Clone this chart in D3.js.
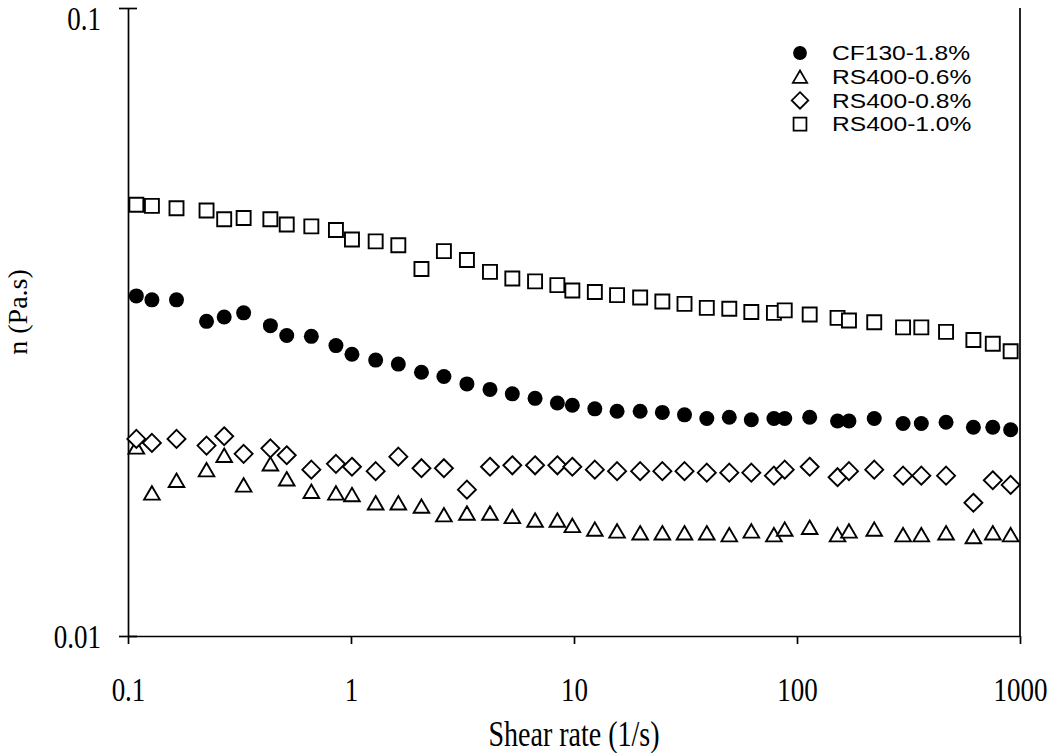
<!DOCTYPE html>
<html>
<head>
<meta charset="utf-8">
<script src="https://cdn.jsdelivr.net/npm/d3@7"></script>
<style>
  body { margin: 0; background: #fff; }
</style>
</head>
<body>
<script>
"use strict";

// shear rate (1/s), shared by all four samples
const shearRate = [0.109, 0.128, 0.165, 0.225, 0.27, 0.33, 0.435, 0.515, 0.664, 0.856,
  1.01, 1.29, 1.63, 2.07, 2.61, 3.31, 4.2, 5.29, 6.69, 8.42,
  9.83, 12.4, 15.6, 19.8, 24.9, 31.3, 39.4, 49.7, 62.4, 78.8,
  88.1, 114, 152, 171, 222, 299, 361, 466, 618, 755, 908];

// viscosity (Pa.s)
const cf130 = [0.0348, 0.0343, 0.0343, 0.0317, 0.0322, 0.0327, 0.0312, 0.0301, 0.0300, 0.0290,
  0.0281, 0.0275, 0.0271, 0.0263, 0.0259, 0.0252, 0.0247, 0.0243, 0.0239, 0.0235,
  0.0233, 0.0230, 0.0228, 0.0228, 0.0227, 0.0225, 0.0222, 0.0223, 0.0221, 0.0222,
  0.0222, 0.0223, 0.0220, 0.0220, 0.0222, 0.0218, 0.0218, 0.0219, 0.0215, 0.0215, 0.0213];

const rs06 = [0.0200, 0.0169, 0.0177, 0.0184, 0.0194, 0.0174, 0.0188, 0.0178, 0.0170, 0.0169,
  0.0168, 0.0163, 0.0163, 0.0161, 0.0156, 0.0157, 0.0157, 0.0155, 0.0153, 0.0153,
  0.0150, 0.0148, 0.0147, 0.0146, 0.0146, 0.0146, 0.0146, 0.0145, 0.0147, 0.0145,
  0.0148, 0.0149, 0.0145, 0.0147, 0.0148, 0.0145, 0.0145, 0.0146, 0.0144, 0.0146, 0.0145];

const rs08 = [0.0206, 0.0203, 0.0206, 0.0201, 0.0208, 0.0195, 0.0199, 0.0194, 0.0184, 0.0188,
  0.0186, 0.0183, 0.0193, 0.0185, 0.0185, 0.0171, 0.0186, 0.0187, 0.0187, 0.0187,
  0.0186, 0.0184, 0.0183, 0.0183, 0.0183, 0.0183, 0.0182, 0.0182, 0.0182, 0.0180,
  0.0184, 0.0186, 0.0179, 0.0183, 0.0184, 0.0180, 0.0180, 0.0180, 0.0163, 0.0177, 0.0174];

const rs10 = [0.0486, 0.0484, 0.0480, 0.0476, 0.0461, 0.0463, 0.0461, 0.0452, 0.0449, 0.0443,
  0.0428, 0.0425, 0.0419, 0.0384, 0.0410, 0.0397, 0.0380, 0.0371, 0.0367, 0.0362,
  0.0355, 0.0353, 0.0349, 0.0346, 0.0341, 0.0338, 0.0333, 0.0332, 0.0328, 0.0327,
  0.0330, 0.0325, 0.0321, 0.0318, 0.0316, 0.0310, 0.0310, 0.0305, 0.0296, 0.0292, 0.0284];

const seriesNames = ["CF130-1.8%", "RS400-0.6%", "RS400-0.8%", "RS400-1.0%"];
const xTicks = [0.1, 1, 10, 100, 1000];
const yTicks = [0.01, 0.1];

const m = {
  width: 1050,
  height: 753,
  left: 128,
  right: 1020,
  top: 8,
  bottom: 636
};

const serif = "'Liberation Serif', 'Times New Roman', serif";
const stretch = 1.25; // serif labels in the original are drawn taller than wide

const svg = d3
  .select("body")
  .append("svg")
  .attr("width", m.width)
  .attr("height", m.height)
  .style("display", "block");

const x = d3.scaleLog().domain([0.1, 1000]).range([m.left, m.right]);
const y = d3.scaleLog().domain([0.01, 0.1]).range([m.bottom, m.top]);

// marker shapes
const shapes = {
  circle: "M7.5,0A7.5,7.5 0 1,1 -7.5,0A7.5,7.5 0 1,1 7.5,0Z",
  triangle: "M0,-6.7L7.8,6.7L-7.8,6.7Z",
  diamond: "M0,-9L9,0L0,9L-9,0Z",
  square: "M-7,-7H7V7H-7Z"
};

const series = [
  { name: seriesNames[0], values: cf130, shape: "circle", fill: "#000" },
  { name: seriesNames[1], values: rs06, shape: "triangle", fill: "#fff" },
  { name: seriesNames[2], values: rs08, shape: "diamond", fill: "#fff" },
  { name: seriesNames[3], values: rs10, shape: "square", fill: "#fff" }
];

// axes
const xAxis = svg
  .append("g")
  .attr("transform", `translate(0,${m.bottom})`)
  .call(d3.axisBottom(x).tickValues(xTicks).tickFormat(d3.format("")).tickSize(8).tickSizeOuter(0));

const yAxis = svg
  .append("g")
  .attr("transform", `translate(${m.left},0)`)
  .call(d3.axisLeft(y).tickValues(yTicks).tickFormat(d3.format("")).tickSize(9).tickPadding(18).tickSizeOuter(0));

yAxis.selectAll(".tick line").attr("x1", 9);

[xAxis, yAxis].forEach(a => {
  a.selectAll("path, line").attr("stroke", "#000").attr("stroke-width", 1.7);
  a.selectAll("text")
    .attr("fill", "#000")
    .attr("font-family", serif)
    .attr("font-size", 27);
});

xAxis.selectAll("text")
  .attr("dy", 0)
  .attr("y", 65 / stretch)
  .attr("transform", `scale(1,${stretch})`);

yAxis.selectAll("text")
  .attr("dy", "0.33em")
  .attr("transform", `scale(1,${stretch})`);

// top label sits a little lower so it stays inside the page
yAxis.selectAll(".tick")
  .filter(d => d === 0.1)
  .select("text")
  .attr("y", 8);

// right border
svg
  .append("line")
  .attr("x1", x(1000))
  .attr("x2", x(1000))
  .attr("y1", y(0.1))
  .attr("y2", y(0.01))
  .attr("stroke", "#000")
  .attr("stroke-width", 1.7);

// points
series.forEach(s => {
  svg
    .append("g")
    .selectAll("path")
    .data(s.values.map((v, i) => [shearRate[i], v]))
    .enter()
    .append("path")
    .attr("d", shapes[s.shape])
    .attr("transform", d => `translate(${x(d[0])},${y(d[1])})`)
    .attr("fill", s.fill)
    .attr("stroke", "#000")
    .attr("stroke-width", s.shape === "circle" ? 0 : 1.9);
});

// legend
const legend = svg.append("g").attr("transform", "translate(800,53)");

legend
  .selectAll("g")
  .data(series)
  .enter()
  .append("g")
  .attr("transform", (d, i) => `translate(0,${i * 23.7})`)
  .each(function(d) {
    const row = d3.select(this);
    row
      .append("path")
      .attr("d", shapes[d.shape])
      .attr("transform", "scale(0.92)")
      .attr("fill", d.fill)
      .attr("stroke", "#000")
      .attr("stroke-width", d.shape === "circle" ? 0 : 1.9);
    row
      .append("text")
      .attr("transform", "translate(32,0) scale(1.2,1)")
      .attr("dy", "0.36em")
      .attr("fill", "#000")
      .attr("font-family", "'Liberation Sans', Arial, sans-serif")
      .attr("font-size", 20.5)
      .text(d.name);
  });

// axis titles
svg
  .append("text")
  .attr("transform", `translate(${(m.left + m.right) / 2},746) scale(1,${stretch})`)
  .attr("text-anchor", "middle")
  .attr("fill", "#000")
  .attr("font-family", serif)
  .attr("font-size", 28)
  .text("Shear rate (1/s)");

svg
  .append("text")
  .attr("transform", "translate(27,312) rotate(-90)")
  .attr("text-anchor", "middle")
  .attr("fill", "#000")
  .attr("font-family", serif)
  .attr("font-size", 28)
  .text("n (Pa.s)");
</script>
</body>
</html>
